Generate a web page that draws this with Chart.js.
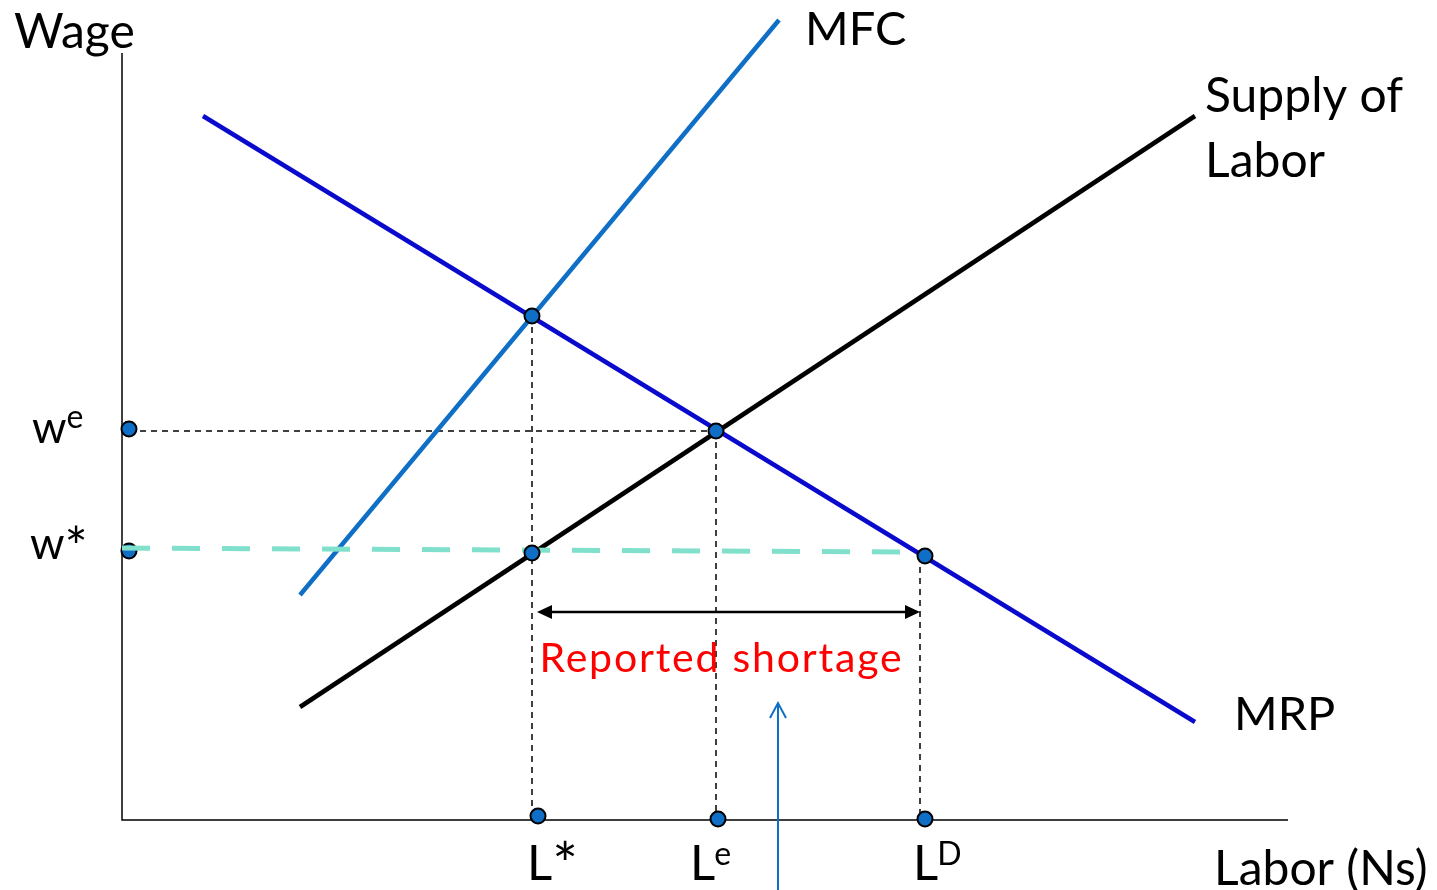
<!DOCTYPE html>
<html><head><meta charset="utf-8">
<script src="https://cdn.jsdelivr.net/npm/chart.js@4"></script>
<style>html,body{margin:0;padding:0;background:#fff;overflow:hidden}</style>
</head><body>
<canvas id="c" width="1437" height="890"></canvas>
<script>
// ---- Data (Labor units on x, Wage units on y) ----
const mrpX = [8.1, 107.3];      const mrpY = [70.4, 9.8];
const mfcX = [17.8, 65.7];      const mfcY = [22.5, 80.0];
const supplyX = [17.8, 107.3];  const supplyY = [11.3, 70.4];
const axisX = [0, 0, 116.6];    const axisY = [76.7, 0, 0];
const minWageX = [0, 79.0];     const minWageY = [27.2, 26.8];
// key points: MRP=MFC, equilibrium, L* on supply, L^D on MRP, w^e, L*, L^e, L^D on axis
const keyX = [41.0, 59.4, 41.0, 80.3, 0.7, 41.6, 59.6, 80.3];
const keyY = [50.4, 38.9, 26.7, 26.4, 39.1, 0.4, 0.1, 0.1];
const wStarDotX = [0.7];        const wStarDotY = [26.9];
// dashed guides
const guideWeX = [0.7, 59.4];   const guideWeY = [38.9, 38.9];
const guideLsX = [41.0, 41.0];  const guideLsY = [50.4, 0.4];
const guideLeX = [59.4, 59.4];  const guideLeY = [38.9, 0.1];
const guideLdX = [79.8, 79.8];  const guideLdY = [26.4, 0.1];
const shortageX = [41.5, 79.8]; const shortageY = [20.8, 20.8];
const pointerX = [65.6, 65.6];  const pointerY = [-7, 11.7];
// text labels
const labelText = ["Wage", "MFC", "Supply of", "Labor", "MRP", "w", "w", "L", "L", "L", "Labor (Ns)"];
const labelSup  = ["", "", "", "", "", "e", "*", "*", "e", "D", ""];
const labelX    = [-10.8, 68.3, 108.3, 108.3, 111.2, -9.0, -9.2, 40.5, 56.8, 79.1, 109.2];
const labelY    = [77.2, 77.5, 70.8, 64.3, 9.0, 37.7, 26.1, -6.0, -6.0, -6.0, -6.5];
const labelSize = [48, 47, 48, 48, 47, 44, 44, 49, 49, 49, 48];
const shortageLabel = "Reported shortage";
const shortageLabelY = 14.8;

const pts = (xs, ys) => xs.map((x, i) => ({x, y: ys[i]}));
const lineDs = (xs, ys, color, width, dash, order) => ({
  type: 'line', data: pts(xs, ys), borderColor: color, borderWidth: width,
  borderDash: dash || [], pointRadius: 0, fill: false, tension: 0, order: order,
  borderCapStyle: 'butt'
});

const FONT = 'Lato, "Open Sans", sans-serif';

const annotate = {
  id: 'annotate',
  afterDatasetsDraw(chart) {
    const ctx = chart.ctx, xs = chart.scales.x, ys = chart.scales.y;
    const px = v => xs.getPixelForValue(v), py = v => ys.getPixelForValue(v);
    ctx.save();
    // shortage double arrow
    const ax0 = px(shortageX[0]), ax1 = px(shortageX[1]), ay = py(shortageY[0]);
    ctx.strokeStyle = '#000'; ctx.fillStyle = '#000'; ctx.lineWidth = 2.5;
    ctx.beginPath(); ctx.moveTo(ax0 + 8, ay); ctx.lineTo(ax1 - 8, ay); ctx.stroke();
    ctx.beginPath(); ctx.moveTo(ax0, ay); ctx.lineTo(ax0 + 15, ay - 7); ctx.lineTo(ax0 + 15, ay + 7); ctx.closePath(); ctx.fill();
    ctx.beginPath(); ctx.moveTo(ax1, ay); ctx.lineTo(ax1 - 15, ay - 7); ctx.lineTo(ax1 - 15, ay + 7); ctx.closePath(); ctx.fill();
    // pointer arrow (open head)
    const bx = px(pointerX[0]), by0 = py(pointerY[0]), by1 = py(pointerY[1]);
    ctx.strokeStyle = '#0F6FC6'; ctx.lineWidth = 2;
    ctx.beginPath(); ctx.moveTo(bx, by0); ctx.lineTo(bx, by1); ctx.stroke();
    ctx.beginPath(); ctx.moveTo(bx - 8, by1 + 15); ctx.lineTo(bx, by1); ctx.lineTo(bx + 8, by1 + 15); ctx.stroke();
    // red label
    ctx.fillStyle = '#FF0000'; ctx.font = '41px ' + FONT; ctx.textAlign = 'center'; ctx.textBaseline = 'alphabetic';
    if ('letterSpacing' in ctx) ctx.letterSpacing = '1.8px';
    ctx.fillText(shortageLabel, (ax0 + ax1) / 2 - 7, py(shortageLabelY));
    if ('letterSpacing' in ctx) ctx.letterSpacing = '0px';
    // other labels
    ctx.textAlign = 'left'; ctx.fillStyle = '#000';
    ctx.font = '100px ' + FONT;
    const am = ctx.measureText('*');
    const aH = Math.max(10, am.actualBoundingBoxAscent + am.actualBoundingBoxDescent);
    labelText.forEach((t, i) => {
      const x = px(labelX[i]), y = py(labelY[i]);
      ctx.font = labelSize[i] + 'px ' + FONT;
      ctx.fillText(t, x, y);
      const s = labelSup[i];
      if (!s) return;
      const w = ctx.measureText(t).width;
      if (s === '*') {
        const big = labelSize[i] >= 49;
        const inkH = big ? 20 : 18;
        const size = 100 * inkH / aH;
        ctx.font = size + 'px ' + FONT;
        const m = ctx.measureText('*');
        const top = y - (big ? 40 : 34);
        ctx.fillText('*', x + w + 3 + m.actualBoundingBoxLeft, top + m.actualBoundingBoxAscent);
      } else {
        ctx.font = '32px ' + FONT;
        const gap = labelSize[i] >= 49 ? -1 : 0;
        ctx.fillText(s, x + w + gap, y - 15);
      }
    });
    ctx.restore();
  }
};

new Chart(document.getElementById('c'), {
  type: 'line',
  data: {
    datasets: [
      {type: 'scatter', data: pts(keyX, keyY), pointRadius: 7.5, pointBackgroundColor: '#0F6FC6',
       pointBorderColor: '#000', pointBorderWidth: 2, showLine: false, order: 0},
      lineDs(minWageX, minWageY, '#80E0CC', 5, [28, 22], 1),
      {type: 'scatter', data: pts(wStarDotX, wStarDotY), pointRadius: 7.5, pointBackgroundColor: '#0F6FC6',
       pointBorderColor: '#000', pointBorderWidth: 2, showLine: false, order: 2},
      lineDs(mrpX, mrpY, '#0A0ACC', 4.5, null, 3),
      lineDs(supplyX, supplyY, '#000000', 4.5, null, 3),
      lineDs(mfcX, mfcY, '#0F6FC6', 4.5, null, 4),
      lineDs(guideWeX, guideWeY, '#000', 1.5, [6, 5], 5),
      lineDs(guideLsX, guideLsY, '#000', 1.5, [6, 5], 5),
      lineDs(guideLeX, guideLeY, '#000', 1.5, [6, 5], 5),
      lineDs(guideLdX, guideLdY, '#000', 1.5, [6, 5], 5),
      lineDs(axisX, axisY, '#000', 1.5, null, 6)
    ]
  },
  options: {
    responsive: false, animation: false, devicePixelRatio: 1,
    layout: {padding: 0, autoPadding: false},
    plugins: {legend: {display: false}, tooltip: {enabled: false}},
    scales: {
      x: {type: 'linear', min: -12.2, max: 131.5, display: false},
      y: {type: 'linear', min: -7, max: 82, display: false}
    }
  },
  plugins: [annotate]
});
</script>
</body></html>
